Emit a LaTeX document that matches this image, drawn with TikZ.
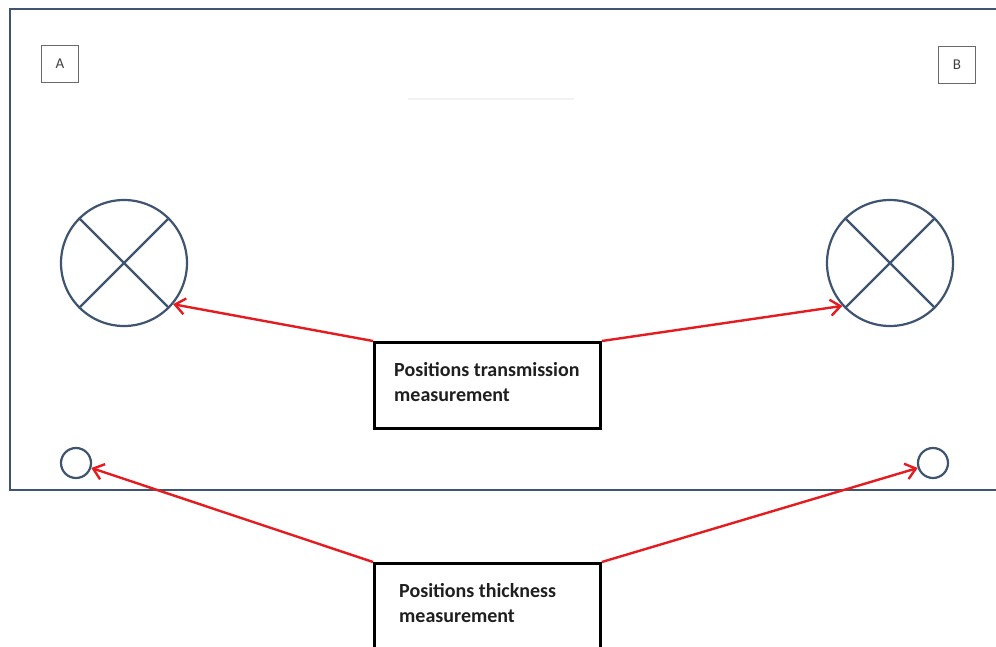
\documentclass[tikz,border=0pt]{standalone}
\usepackage{fontspec}
\setmainfont{Carlito}
\usetikzlibrary{arrows.meta}
\definecolor{frameblue}{RGB}{62,84,112}
\definecolor{arrowred}{RGB}{228,28,32}
\definecolor{tagedge}{RGB}{105,105,105}
\begin{document}
\begin{tikzpicture}[x=1pt,y=-1pt,
  lamp/.style={circle,draw=frameblue,line width=2.2pt,minimum size=126pt,inner sep=0pt},
  spot/.style={circle,draw=frameblue,line width=2.2pt,minimum size=30pt,inner sep=0pt},
  tag/.style={draw=tagedge,line width=1.3pt,minimum size=37pt,inner sep=0pt,font=\fontsize{15}{18}\selectfont,text=black!75},
  callout/.style={draw=black,line width=2.8pt,fill=white,minimum width=226pt,inner sep=0pt},
  calltext/.style={font=\bfseries\fontsize{20}{25}\selectfont,align=left,inner sep=0pt,text=black!88},
  pointer/.style={draw=arrowred,line width=2.4pt,-{Straight Barb[length=10pt,width=16pt,line width=2.4pt]}}]
\clip (0,0) rectangle (996,646);
\fill[white] (0,0) rectangle (996,646);
% plate outline
\draw[frameblue,line width=2.5pt] (1010,9) -- (10,9) -- (10,490) -- (1010,490);
% faint mark
\draw[black!5,line width=1.5pt] (408,99) -- (574,99);
% corner tags
\node[tag] (A) at (60,64) {A};
\node[tag] (B) at (957,65) {B};
% transmission positions
\node[lamp] (L1) at (124,263) {};
\node[lamp] (L2) at (890,263) {};
\foreach \c in {L1,L2}{
  \draw[frameblue,line width=2.2pt] (\c.45) -- (\c.225);
  \draw[frameblue,line width=2.2pt] (\c.135) -- (\c.315);
}
% thickness positions
\node[spot] (S1) at (76,463) {};
\node[spot] (S2) at (933,463) {};
% callout boxes
\node[callout,minimum height=86pt,anchor=north west] (T) at (373,341) {};
\node[calltext,anchor=north west] (Tt) at ([xshift=21pt,yshift=-21pt]T.north west) {Positions transmission\\measurement};
\node[callout,minimum height=110pt,anchor=north west] (K) at (373,562) {};
\node[calltext,anchor=north west] (Kt) at ([xshift=26pt,yshift=-21pt]K.north west) {Positions thickness\\measurement};
% pointers
\draw[pointer] (T.north west) -- (L1.-40);
\draw[pointer] (T.north east) -- (L2.222);
\draw[pointer] (K.north west) -- (S1.-18);
\draw[pointer] (K.north east) -- (S2.198);
\end{tikzpicture}
\end{document}
